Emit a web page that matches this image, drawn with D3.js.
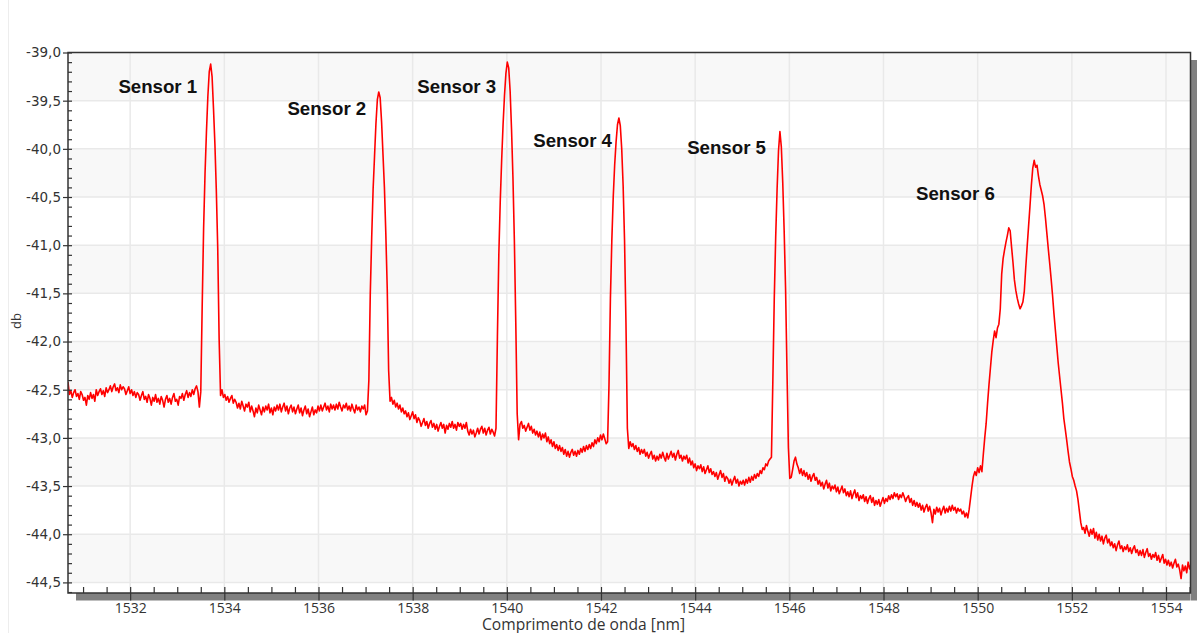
<!DOCTYPE html>
<html><head><meta charset="utf-8">
<script src="https://cdn.jsdelivr.net/npm/d3@7"></script>
<style>html,body{margin:0;padding:0;background:#fff;} svg{display:block;}</style>
</head><body><svg id="chart" width="1197" height="633"></svg>
<script>
// ---------------- data ----------------
const xMajorTicks = [1532, 1534, 1536, 1538, 1540, 1542, 1544, 1546, 1548, 1550, 1552, 1554];
const yMajorTicks = [-39.0, -39.5, -40.0, -40.5, -41.0, -41.5, -42.0, -42.5, -43.0, -43.5, -44.0, -44.5];
const xTitle = "Comprimento de onda [nm]";
const yTitle = "db";
const sensorNames = ["Sensor 1", "Sensor 2", "Sensor 3", "Sensor 4", "Sensor 5", "Sensor 6"];
const sensorLabelWl = [1531.75, 1535.34, 1538.10, 1540.56, 1543.83, 1548.69];
const sensorLabelDb = [-39.42, -39.65, -39.42, -39.98, -40.05, -40.53];

// spectrum, sampled on an even wavelength grid inside each segment [start, end] (nm)
const segmentStartNm = [1530.68, 1533.50, 1533.95, 1537.04, 1537.55, 1539.77, 1540.25, 1542.14, 1542.59, 1545.62, 1546.04, 1549.82, 1552.25];
const segmentEndNm   = [1533.47, 1533.92, 1537.01, 1537.52, 1539.74, 1540.22, 1542.11, 1542.56, 1545.59, 1546.01, 1549.79, 1552.22, 1554.53];

const baseline1Db = [-42.42,-42.55,-42.51,-42.58,-42.53,-42.50,-42.57,-42.54,-42.60,-42.52,
 -42.55,-42.61,-42.58,-42.66,-42.56,-42.60,-42.53,-42.59,-42.55,-42.62,
 -42.50,-42.56,-42.52,-42.49,-42.55,-42.51,-42.57,-42.48,-42.53,-42.50,
 -42.46,-42.52,-42.47,-42.44,-42.51,-42.48,-42.53,-42.45,-42.50,-42.47,
 -42.49,-42.55,-42.51,-42.47,-42.54,-42.50,-42.56,-42.52,-42.58,-42.53,
 -42.55,-42.61,-42.56,-42.52,-42.60,-42.57,-42.63,-42.55,-42.59,-42.66,
 -42.58,-42.62,-42.55,-42.63,-42.59,-42.65,-42.57,-42.61,-42.68,-42.60,
 -42.56,-42.63,-42.59,-42.65,-42.58,-42.54,-42.62,-42.60,-42.66,-42.57,
 -42.59,-42.54,-42.61,-42.55,-42.51,-42.58,-42.53,-42.57,-42.50,-42.55,
 -42.49,-42.46,-42.52,-42.68];
const sensor1Db = [-42.52,-41.63,-40.83,-40.26,-39.83,-39.46,-39.20,-39.12,-39.25,-39.58,-39.95,-40.43,-41.03,-41.98,-42.56];
const baseline2Db = [-42.50,-42.58,-42.55,-42.61,-42.57,-42.63,-42.59,-42.56,-42.64,-42.60,
 -42.63,-42.69,-42.64,-42.70,-42.62,-42.67,-42.72,-42.65,-42.68,-42.63,
 -42.73,-42.67,-42.72,-42.78,-42.69,-42.74,-42.66,-42.71,-42.76,-42.68,
 -42.73,-42.67,-42.71,-42.65,-42.74,-42.69,-42.76,-42.68,-42.72,-42.66,
 -42.71,-42.65,-42.73,-42.68,-42.64,-42.72,-42.67,-42.75,-42.69,-42.66,
 -42.73,-42.68,-42.75,-42.70,-42.66,-42.74,-42.69,-42.77,-42.71,-42.67,
 -42.75,-42.70,-42.78,-42.73,-42.68,-42.76,-42.71,-42.74,-42.67,-42.72,
 -42.66,-42.72,-42.68,-42.64,-42.71,-42.67,-42.73,-42.65,-42.70,-42.66,
 -42.71,-42.65,-42.70,-42.63,-42.68,-42.72,-42.66,-42.69,-42.64,-42.71,
 -42.67,-42.72,-42.65,-42.70,-42.74,-42.66,-42.71,-42.68,-42.73,-42.67,
 -42.70,-42.66,-42.76];
const sensor2Db = [-42.72,-42.40,-41.50,-40.92,-40.42,-40.08,-39.74,-39.49,-39.41,-39.47,-39.72,-40.06,-40.40,-40.88,-41.45,-42.30,-42.62];
const baseline3Db = [-42.58,-42.65,-42.61,-42.68,-42.64,-42.70,-42.66,-42.73,-42.69,-42.75,
 -42.72,-42.78,-42.74,-42.81,-42.77,-42.73,-42.80,-42.76,-42.84,-42.79,
 -42.82,-42.88,-42.84,-42.80,-42.87,-42.83,-42.90,-42.85,-42.82,-42.89,
 -42.85,-42.91,-42.86,-42.93,-42.88,-42.84,-42.90,-42.86,-42.95,-42.87,
 -42.91,-42.85,-42.89,-42.83,-42.90,-42.86,-42.92,-42.84,-42.88,-42.85,
 -42.91,-42.86,-42.90,-42.84,-42.93,-42.97,-42.91,-42.96,-42.92,-42.99,
 -42.95,-42.90,-42.96,-42.91,-42.88,-42.95,-42.90,-42.97,-42.92,-42.89,
 -42.96,-42.91,-42.94,-42.98];
const sensor3Db = [-42.90,-41.95,-41.10,-40.55,-40.12,-39.75,-39.45,-39.22,-39.10,-39.16,-39.40,-39.80,-40.30,-40.95,-41.80,-42.75];
const baseline4Db = [-43.02,-42.86,-42.83,-42.90,-42.87,-42.93,-42.89,-42.85,-42.92,-42.88,
 -42.95,-42.91,-42.97,-42.93,-42.99,-42.94,-43.02,-42.96,-43.00,-42.95,
 -43.04,-42.99,-43.06,-43.02,-43.09,-43.04,-43.11,-43.07,-43.13,-43.08,
 -43.14,-43.10,-43.17,-43.12,-43.19,-43.14,-43.20,-43.15,-43.12,-43.18,
 -43.14,-43.19,-43.13,-43.17,-43.11,-43.15,-43.09,-43.14,-43.08,-43.12,
 -43.07,-43.11,-43.05,-43.09,-43.02,-43.06,-43.00,-43.04,-42.97,-43.02,
 -42.96,-43.01,-43.06];
const sensor4Db = [-43.04,-42.45,-41.55,-40.95,-40.50,-40.17,-39.93,-39.75,-39.68,-39.76,-40.00,-40.38,-40.95,-41.80,-42.90];
const baseline5Db = [-43.11,-43.04,-43.09,-43.06,-43.12,-43.08,-43.14,-43.10,-43.17,-43.12,
 -43.16,-43.12,-43.19,-43.15,-43.21,-43.17,-43.14,-43.22,-43.18,-43.24,
 -43.19,-43.23,-43.17,-43.21,-43.15,-43.20,-43.24,-43.16,-43.22,-43.18,
 -43.14,-43.20,-43.16,-43.23,-43.17,-43.13,-43.21,-43.18,-43.24,-43.19,
 -43.22,-43.18,-43.26,-43.21,-43.28,-43.24,-43.31,-43.27,-43.34,-43.29,
 -43.32,-43.28,-43.35,-43.30,-43.37,-43.33,-43.29,-43.36,-43.32,-43.38,
 -43.35,-43.40,-43.36,-43.43,-43.38,-43.34,-43.41,-43.37,-43.45,-43.40,
 -43.42,-43.47,-43.43,-43.49,-43.44,-43.40,-43.47,-43.43,-43.50,-43.45,
 -43.48,-43.44,-43.49,-43.43,-43.47,-43.41,-43.46,-43.40,-43.44,-43.38,
 -43.42,-43.37,-43.40,-43.34,-43.37,-43.31,-43.33,-43.27,-43.29,-43.24,
 -43.22];
const sensor5Db = [-43.20,-42.40,-41.55,-40.92,-40.42,-40.02,-39.82,-39.98,-40.35,-40.85,-41.45,-42.30,-43.10,-43.42];
const baseline6Db = [-43.41,-43.33,-43.24,-43.20,-43.27,-43.31,-43.37,-43.32,-43.39,-43.34,
 -43.40,-43.36,-43.43,-43.38,-43.45,-43.40,-43.37,-43.44,-43.41,-43.48,
 -43.44,-43.50,-43.46,-43.53,-43.48,-43.44,-43.52,-43.47,-43.55,-43.50,
 -43.53,-43.49,-43.56,-43.51,-43.58,-43.54,-43.50,-43.57,-43.53,-43.60,
 -43.56,-43.61,-43.55,-43.63,-43.58,-43.54,-43.62,-43.57,-43.65,-43.60,
 -43.63,-43.59,-43.66,-43.61,-43.68,-43.63,-43.60,-43.67,-43.62,-43.70,
 -43.65,-43.69,-43.64,-43.71,-43.66,-43.62,-43.68,-43.63,-43.66,-43.60,
 -43.64,-43.59,-43.63,-43.57,-43.61,-43.58,-43.64,-43.59,-43.62,-43.57,
 -43.61,-43.66,-43.62,-43.60,-43.67,-43.63,-43.70,-43.65,-43.71,-43.67,
 -43.72,-43.68,-43.75,-43.70,-43.77,-43.72,-43.69,-43.76,-43.71,-43.78,
 -43.88,-43.74,-43.79,-43.72,-43.77,-43.73,-43.80,-43.75,-43.71,-43.78,
 -43.73,-43.77,-43.71,-43.76,-43.70,-43.75,-43.72,-43.78,-43.73,-43.76,
 -43.74,-43.79,-43.76,-43.82,-43.78,-43.83];
const sensor6Db = [-43.74,-43.62,-43.50,-43.40,-43.35,-43.39,-43.31,-43.36,-43.29,-43.35,
 -43.17,-43.00,-42.85,-42.64,-42.45,-42.28,-42.11,-41.99,-41.89,-41.96,
 -41.86,-41.82,-41.66,-41.30,-41.14,-41.05,-40.97,-40.90,-40.82,-40.85,
 -41.02,-41.18,-41.36,-41.47,-41.55,-41.61,-41.66,-41.63,-41.59,-41.48,
 -41.24,-41.02,-40.81,-40.60,-40.38,-40.20,-40.12,-40.19,-40.17,-40.28,
 -40.37,-40.43,-40.49,-40.58,-40.72,-40.88,-41.04,-41.19,-41.35,-41.52,
 -41.71,-41.88,-42.05,-42.22,-42.36,-42.50,-42.64,-42.80,-42.91,-43.02,
 -43.14,-43.25,-43.32,-43.40,-43.44,-43.50,-43.55,-43.64,-43.76,-43.88,
 -43.95];
const baseline7Db = [-43.93,-43.99,-43.91,-43.97,-44.02,-43.95,-44.00,-43.94,-44.04,-43.98,
 -44.06,-44.00,-44.07,-44.02,-44.10,-44.04,-44.01,-44.09,-44.05,-44.12,
 -44.08,-44.14,-44.10,-44.17,-44.11,-44.07,-44.15,-44.12,-44.18,-44.13,
 -44.16,-44.11,-44.18,-44.14,-44.20,-44.15,-44.12,-44.19,-44.16,-44.22,
 -44.17,-44.22,-44.16,-44.24,-44.19,-44.15,-44.23,-44.20,-44.26,-44.21,
 -44.24,-44.19,-44.27,-44.22,-44.29,-44.25,-44.21,-44.30,-44.26,-44.32,
 -44.27,-44.33,-44.29,-44.35,-44.30,-44.26,-44.34,-44.31,-44.37,-44.46,
 -44.32,-44.38,-44.33,-44.40,-44.29,-44.36,-44.31];

// ---------------- chart ----------------
const segmentsDb = [baseline1Db, sensor1Db, baseline2Db, sensor2Db, baseline3Db, sensor3Db,
  baseline4Db, sensor4Db, baseline5Db, sensor5Db, baseline6Db, sensor6Db, baseline7Db];
const spectrum = [];
segmentsDb.forEach((vals, s) => {
  const a = segmentStartNm[s], b = segmentEndNm[s], n = vals.length;
  vals.forEach((v, i) => spectrum.push([a + (n > 1 ? i * (b - a) / (n - 1) : 0), v]));
});

const svg = d3.select("#chart");
const P = {left: 68, top: 52.5, right: 1190.5, bottom: 593};
const x = d3.scaleLinear().domain([1530.68, 1554.52]).range([P.left, P.right]);
const y = d3.scaleLinear().domain([-44.61, -39.0]).range([P.bottom, P.top]);

// faint outer panel line
svg.append("line").attr("x1", 8.5).attr("x2", 8.5).attr("y1", 0).attr("y2", 633)
  .attr("stroke", "#ededed").attr("stroke-width", 1);

// alternating row bands
const bands = svg.append("g");
for (let i = 0; i + 1 < yMajorTicks.length; i += 2) {
  bands.append("rect").attr("x", P.left).attr("width", P.right - P.left)
    .attr("y", y(yMajorTicks[i])).attr("height", y(yMajorTicks[i + 1]) - y(yMajorTicks[i]))
    .attr("fill", "#f8f8f8");
}

// grid
const grid = svg.append("g").attr("stroke", "#e9e9e9").attr("stroke-width", 1.5);
grid.selectAll("line.v").data(xMajorTicks).join("line").attr("class", "v")
  .attr("x1", d => x(d)).attr("x2", d => x(d)).attr("y1", P.top).attr("y2", P.bottom);
grid.selectAll("line.h").data(yMajorTicks.slice(1)).join("line").attr("class", "h")
  .attr("y1", d => y(d)).attr("y2", d => y(d)).attr("x1", P.left).attr("x2", P.right);

// scroll-bar like grey bars
svg.append("rect").attr("x", 76).attr("y", P.bottom).attr("width", P.right - 76).attr("height", 7.5).attr("fill", "#808080");
svg.append("rect").attr("x", P.right + 0.5).attr("y", 60).attr("width", 1197 - P.right - 0.5).attr("height", P.bottom + 7.5 - 60).attr("fill", "#808080");

// data line
svg.append("clipPath").attr("id", "clip").append("rect")
  .attr("x", P.left).attr("y", P.top).attr("width", P.right - P.left).attr("height", P.bottom - P.top);
const line = d3.line().x(d => x(d[0])).y(d => y(d[1]));
svg.append("path").datum(spectrum).attr("clip-path", "url(#clip)")
  .attr("d", line).attr("fill", "none").attr("stroke", "#ff0000")
  .attr("stroke-width", 1.6).attr("stroke-linejoin", "round");

// axes
const fmtY = d => d.toFixed(1).replace(".", ",");
const yMinor = d3.range(-44.6, -38.95, 0.1).map(v => +v.toFixed(1));
const xMinor = d3.range(1531, 1554.6, 0.5);

const gyMinor = svg.append("g").attr("transform", `translate(${P.left},0)`)
  .call(d3.axisLeft(y).tickValues(yMinor).tickSize(-4).tickFormat(""));
const gy = svg.append("g").attr("transform", `translate(${P.left},0)`)
  .call(d3.axisLeft(y).tickValues(yMajorTicks).tickSize(5).tickPadding(2).tickFormat(fmtY));
const gxMinor = svg.append("g").attr("transform", `translate(0,${P.bottom})`)
  .call(d3.axisBottom(x).tickValues(xMinor).tickSize(-6).tickFormat(""));
const gx = svg.append("g").attr("transform", `translate(0,${P.bottom})`)
  .call(d3.axisBottom(x).tickValues(xMajorTicks).tickSize(7.5).tickPadding(3).tickFormat(d => d));

[gyMinor, gy, gxMinor, gx].forEach(g => {
  g.select(".domain").remove();
  g.selectAll(".tick line").attr("stroke", "#333").attr("stroke-width", 1.2);
});
gy.selectAll("text").attr("font-family", "DejaVu Sans, Verdana, sans-serif").attr("font-size", 13.5).attr("fill", "#333");
gx.selectAll("text").attr("font-family", "Open Sans, Segoe UI, sans-serif").attr("font-size", 14).attr("fill", "#333");

// frame
const frame = svg.append("g").attr("stroke", "#333").attr("stroke-width", 1.5).attr("fill", "none");
frame.append("path").attr("d", `M${P.left},${P.top}H${P.right}V${P.bottom}H${P.left}Z`);

// titles
svg.append("text").attr("x", 583.5).attr("y", 629.5).attr("text-anchor", "middle")
  .attr("font-family", "Open Sans, Segoe UI, sans-serif").attr("font-size", 15.6).attr("fill", "#333").text(xTitle);
svg.append("text").attr("transform", "translate(21,321) rotate(-90)").attr("text-anchor", "middle")
  .attr("font-family", "Open Sans, Segoe UI, sans-serif").attr("font-size", 13).attr("fill", "#333").text(yTitle);

// sensor labels
svg.append("g").selectAll("text").data(sensorNames).join("text")
  .attr("x", (d, i) => x(sensorLabelWl[i])).attr("y", (d, i) => y(sensorLabelDb[i]))
  .attr("font-family", "Liberation Sans, Arial, sans-serif").attr("font-weight", "bold")
  .attr("font-size", 18.67).attr("fill", "#111").text(d => d);
</script>
</body></html>
